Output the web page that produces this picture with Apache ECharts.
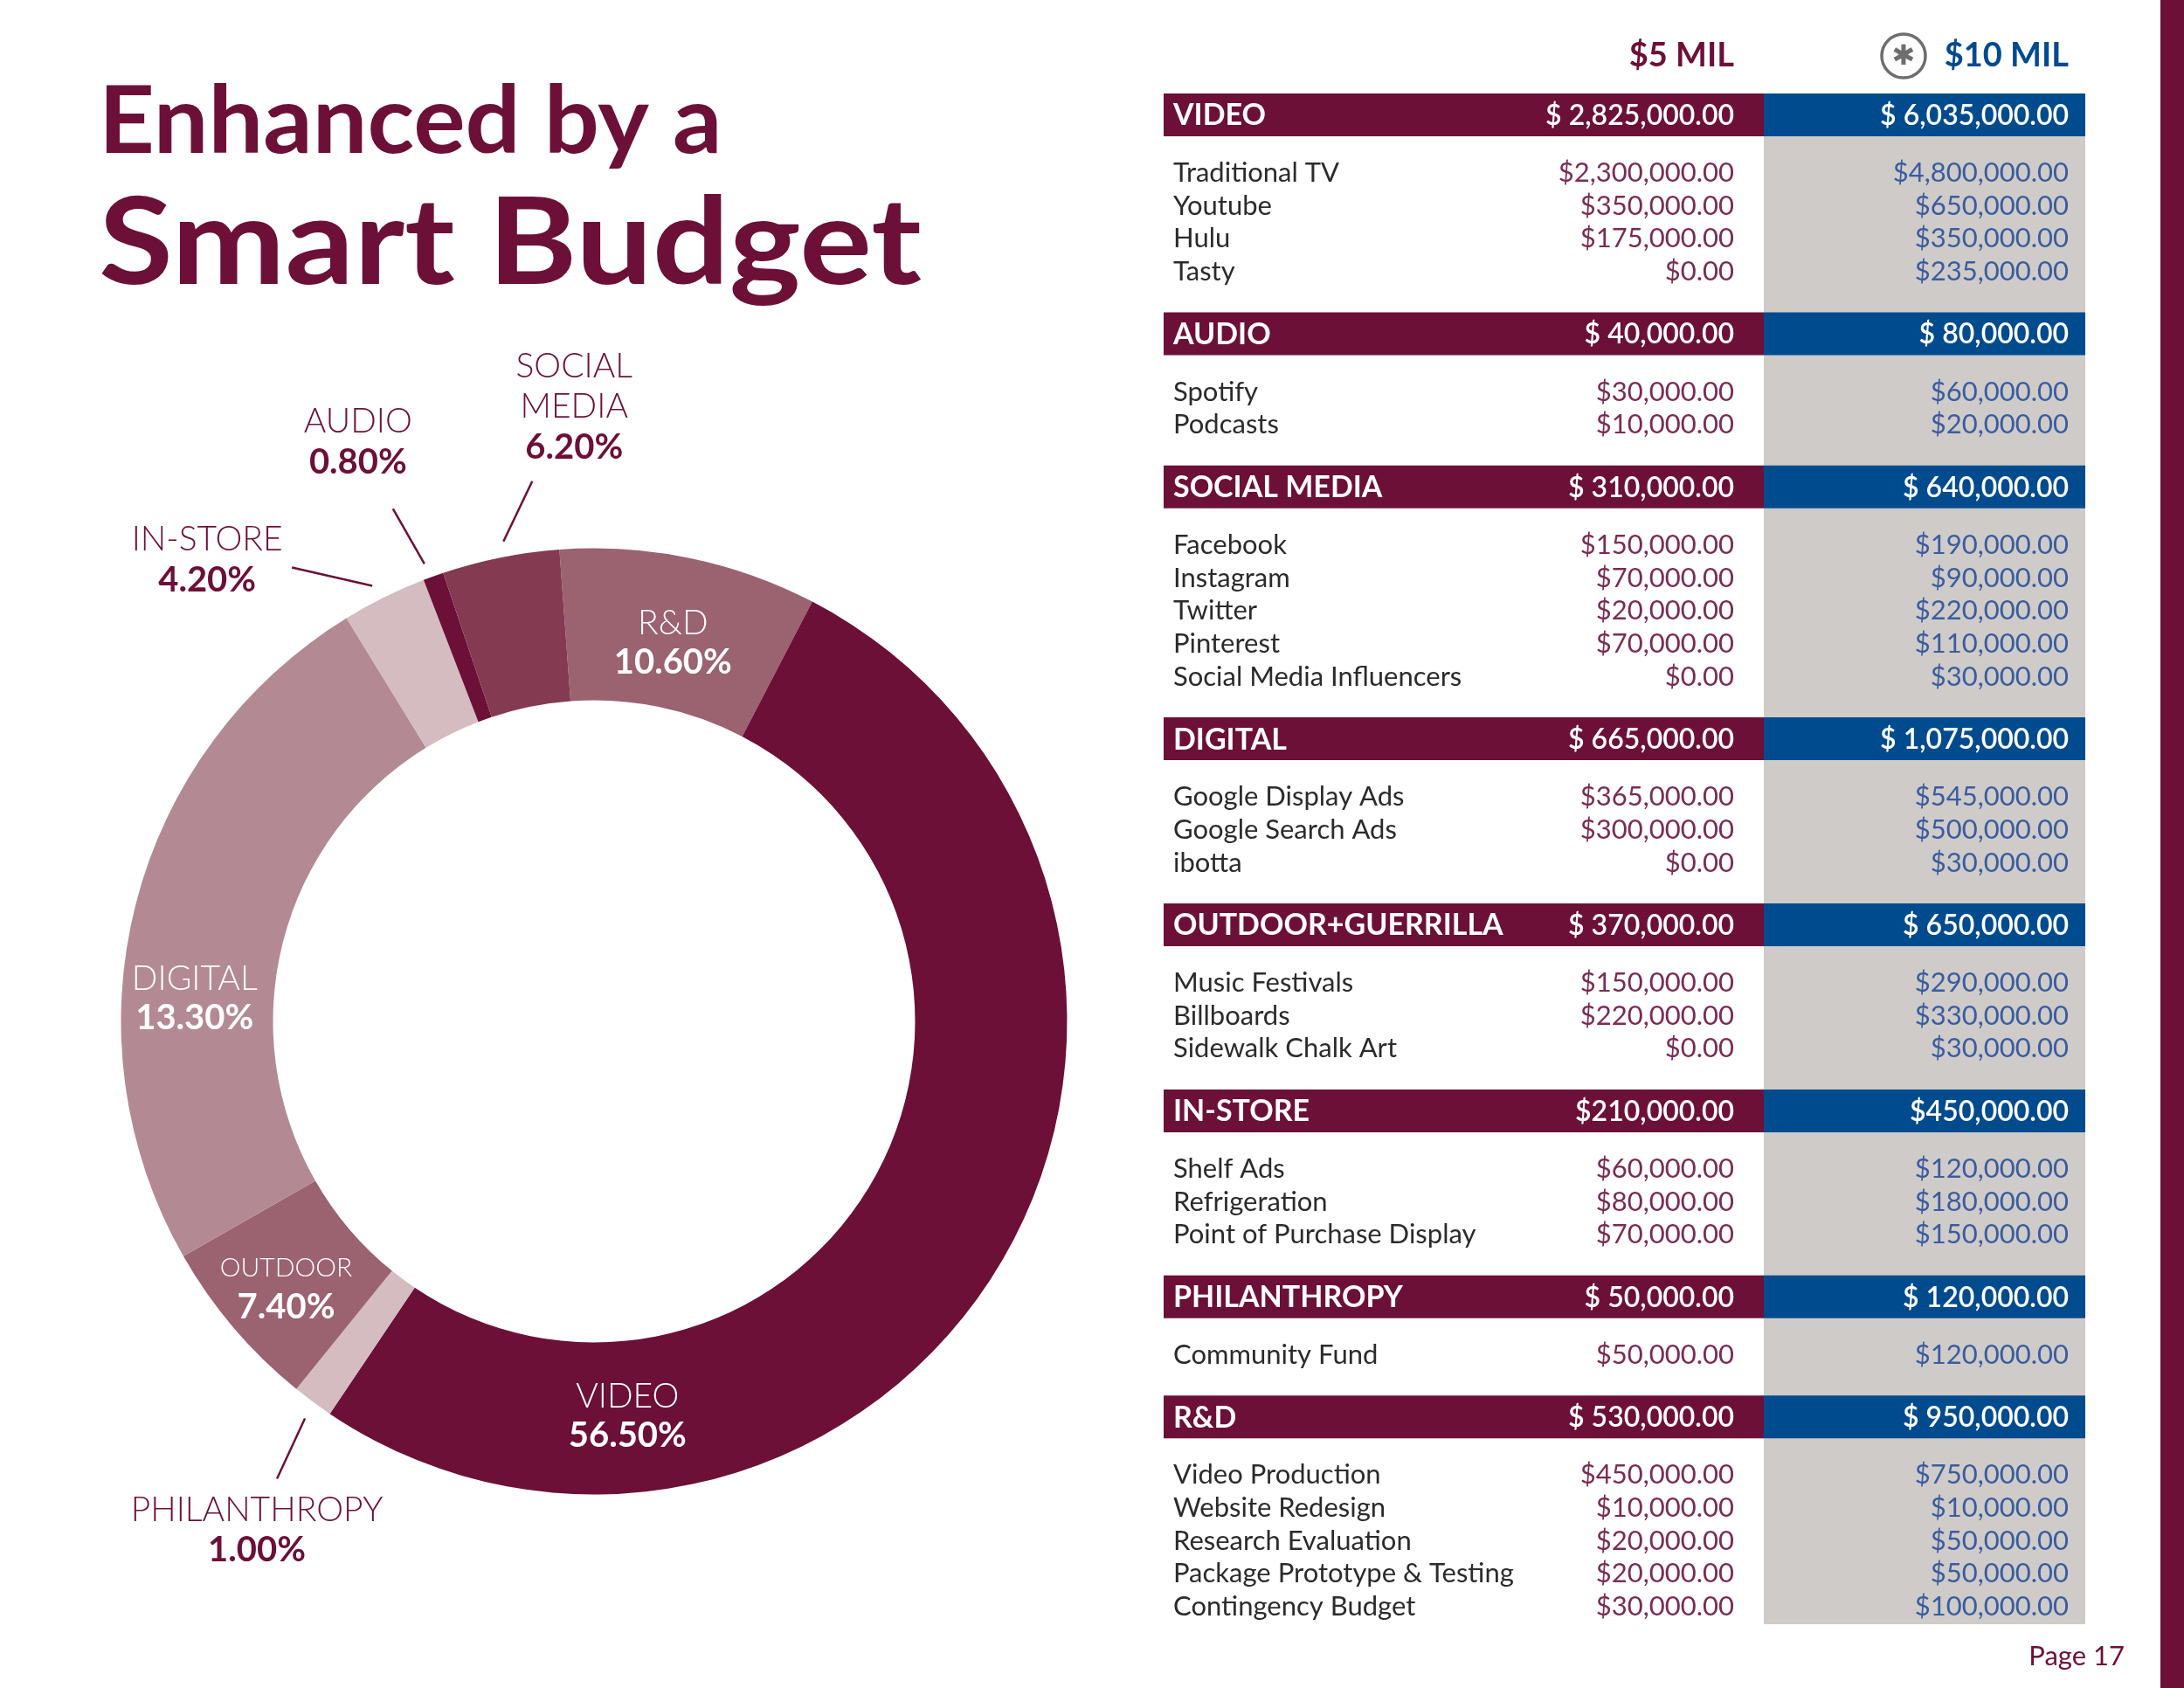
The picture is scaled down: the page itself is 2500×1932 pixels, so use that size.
<!DOCTYPE html>
<html>
<head>
<meta charset="utf-8">
<script src="https://cdn.jsdelivr.net/npm/echarts@6/dist/echarts.min.js"></script>
<style>
html,body{margin:0;padding:0;background:#ffffff;}
#chart{width:2500px;height:1932px;}
</style>
</head>
<body>
<div id="chart"></div>
<script>
// ---------------- Donut data ----------------
const sliceNames = ['R&D', 'VIDEO', 'PHILANTHROPY', 'OUTDOOR', 'DIGITAL', 'IN-STORE', 'AUDIO', 'SOCIAL MEDIA'];
const sliceLabelLines = [['R&D'], ['VIDEO'], ['PHILANTHROPY'], ['OUTDOOR'], ['DIGITAL'], ['IN-STORE'], ['AUDIO'], ['SOCIAL', 'MEDIA']];
const slicePercentLabels = ['10.60%', '56.50%', '1.00%', '7.40%', '13.30%', '4.20%', '0.80%', '6.20%'];
// arc sizes as drawn in the picture (share of the ring, %)
const sliceArcShares = [8.8, 51.8, 1.4, 5.9, 24.5, 2.9, 0.7, 4.0];

// ---------------- Table data ----------------
const titleLines = ['Enhanced by a', 'Smart Budget'];
const budgetHeaders = ['$5 MIL', '$10 MIL'];
const groupNames = ['VIDEO', 'AUDIO', 'SOCIAL MEDIA', 'DIGITAL', 'OUTDOOR+GUERRILLA', 'IN-STORE', 'PHILANTHROPY', 'R&D'];
const groupTotals5 = ['$ 2,825,000.00', '$ 40,000.00', '$ 310,000.00', '$ 665,000.00', '$ 370,000.00', '$210,000.00', '$ 50,000.00', '$ 530,000.00'];
const groupTotals10 = ['$ 6,035,000.00', '$ 80,000.00', '$ 640,000.00', '$ 1,075,000.00', '$ 650,000.00', '$450,000.00', '$ 120,000.00', '$ 950,000.00'];
const itemNames = [
  ['Traditional TV', 'Youtube', 'Hulu', 'Tasty'],
  ['Spotify', 'Podcasts'],
  ['Facebook', 'Instagram', 'Twitter', 'Pinterest', 'Social Media Influencers'],
  ['Google Display Ads', 'Google Search Ads', 'ibotta'],
  ['Music Festivals', 'Billboards', 'Sidewalk Chalk Art'],
  ['Shelf Ads', 'Refrigeration', 'Point of Purchase Display'],
  ['Community Fund'],
  ['Video Production', 'Website Redesign', 'Research Evaluation', 'Package Prototype & Testing', 'Contingency Budget']
];
const itemValues5 = [
  [2300000, 350000, 175000, 0],
  [30000, 10000],
  [150000, 70000, 20000, 70000, 0],
  [365000, 300000, 0],
  [150000, 220000, 0],
  [60000, 80000, 70000],
  [50000],
  [450000, 10000, 20000, 20000, 30000]
];
const itemValues10 = [
  [4800000, 650000, 350000, 235000],
  [60000, 20000],
  [190000, 90000, 220000, 110000, 30000],
  [545000, 500000, 30000],
  [290000, 330000, 30000],
  [120000, 180000, 150000],
  [120000],
  [750000, 10000, 50000, 50000, 100000]
];
const pageLabel = 'Page 17';

// ---------------- Styles ----------------
const MAROON = '#6c1038';
const BLUE = '#004b8d';
const GREY = '#cfcbc9';
const VAL5 = '#7a2c55';
const VAL10 = '#3a5c9e';
const ROWTXT = '#2b2b2b';
const FONT = 'Lato, "Noto Sans", sans-serif';
const sliceColors = ['#9b6270', '#6c1038', '#d4bcc1', '#9b6270', '#b38a94', '#d4bcc1', '#6c1038', '#843a50'];

// label placement (offsets in px; inside: from default ring-middle point, outside: from outer-edge anchor)
const placement = [
  { inside: true, d: [-2, 14.5] },
  { inside: true, d: [-355, 218] },
  { inside: false, s: [-9, 19], e: [-41, 88], l: [-64, 147] },
  { inside: true, d: [-4, 6], small: true },
  { inside: true, d: [-14, 87] },
  { inside: false, s: [-13.6, -13.2], e: [-105.6, -34.2], l: [-202.6, -43] },
  { inside: false, s: [-10.2, -14.3], e: [-46.2, -77.3], l: [-86.2, -154] },
  { inside: false, s: [3.3, -18.5], e: [36.3, -87.5], l: [84.3, -172.5] }
];

const L = { left: 1332, split: 2019, right: 2387, textL: 1343, col5R: 1985, col10R: 2368,
            top: 107, barH: 49, firstRow: 42, rowGap: 37.7, afterRows: 46.5, greyPad: 20 };

const fmt = v => '$' + v.toLocaleString('en-US', { minimumFractionDigits: 2, maximumFractionDigits: 2 });

function txt(x, y, s, o, extra) {
  return Object.assign({ type: 'text', z: 20, silent: true, x: x, y: y,
    style: Object.assign({ text: s, fontFamily: FONT, fontSize: 31, fontWeight: 400, fill: ROWTXT,
      align: 'left', verticalAlign: 'middle' }, o) }, extra || {});
}

const graphics = [];
// right edge band
graphics.push({ type: 'rect', z: 1, silent: true, shape: { x: 2473, y: 0, width: 27, height: 1932 }, style: { fill: MAROON } });
// title
graphics.push(txt(113, 140, titleLines[0], { fontSize: 107, fontWeight: 700, fill: MAROON }, { scaleX: 1.04 }));
graphics.push(txt(113, 280, titleLines[1], { fontSize: 138, fontWeight: 700, fill: MAROON }, { scaleX: 1.124 }));
// column headers
graphics.push(txt(L.col5R, 64, budgetHeaders[0], { fontSize: 38, fontWeight: 700, fill: MAROON, align: 'right' }));
graphics.push(txt(L.col10R, 64, budgetHeaders[1], { fontSize: 38, fontWeight: 700, fill: BLUE, align: 'right' }));
graphics.push({ type: 'circle', z: 20, silent: true, shape: { cx: 2179, cy: 64, r: 25 }, style: { fill: 'none', stroke: '#6e6e6e', lineWidth: 3.5 } });
graphics.push(txt(2179, 66, '\u2731', { fontFamily: '"DejaVu Sans"', fontSize: 32, fill: '#6e6e6e', align: 'center' }));

// table body
let y = L.top;
let lastRowY = y;
groupNames.forEach((name, gi) => {
  const barTop = y;
  const cy = barTop + L.barH / 2;
  graphics.push({ type: 'rect', z: 10, silent: true, shape: { x: L.left, y: barTop, width: L.split - L.left, height: L.barH }, style: { fill: MAROON } });
  graphics.push({ type: 'rect', z: 10, silent: true, shape: { x: L.split, y: barTop, width: L.right - L.split, height: L.barH }, style: { fill: BLUE } });
  graphics.push(txt(L.textL, cy + 1, name, { fontSize: 34, fontWeight: 700, fill: '#ffffff' }));
  graphics.push(txt(L.col5R, cy + 1, groupTotals5[gi], { fontSize: 32, fontWeight: 600, fill: '#ffffff', align: 'right' }));
  graphics.push(txt(L.col10R, cy + 1, groupTotals10[gi], { fontSize: 32, fontWeight: 600, fill: '#ffffff', align: 'right' }));
  let ry = barTop + L.barH + L.firstRow;
  itemNames[gi].forEach((item, k) => {
    graphics.push(txt(L.textL, ry, item, { fontSize: 31, fill: ROWTXT }));
    graphics.push(txt(L.col5R, ry, fmt(itemValues5[gi][k]), { fontSize: 31, fill: VAL5, align: 'right' }));
    graphics.push(txt(L.col10R, ry, fmt(itemValues10[gi][k]), { fontSize: 31, fill: VAL10, align: 'right' }));
    lastRowY = ry;
    ry += L.rowGap;
  });
  y = lastRowY + L.afterRows;
});
// grey column behind the $10 MIL values
graphics.push({ type: 'rect', z: 5, silent: true, shape: { x: L.split, y: L.top, width: L.right - L.split, height: lastRowY + L.greyPad - L.top }, style: { fill: GREY } });
// page number
graphics.push(txt(2432, 1896, pageLabel, { fontSize: 31, fill: MAROON, align: 'right' }));

const pieData = sliceNames.map((n, i) => {
  const pl = placement[i];
  return {
    name: n,
    value: sliceArcShares[i],
    itemStyle: { color: sliceColors[i] },
    label: { position: pl.inside ? 'inside' : 'outside' },
    labelLine: { show: !pl.inside }
  };
});

const chart = echarts.init(document.getElementById('chart'), null, { renderer: 'canvas', width: 2500, height: 1932 });
chart.setOption({
  backgroundColor: '#ffffff',
  animation: false,
  textStyle: { fontFamily: FONT },
  graphic: { elements: graphics },
  series: [{
    type: 'pie',
    silent: true,
    center: [680, 1169],
    radius: [367.5, 541.5],
    startAngle: 94.2,
    clockwise: true,
    avoidLabelOverlap: false,
    emphasis: { disabled: true },
    itemStyle: { borderWidth: 0 },
    label: {
      show: true,
      fontFamily: FONT,
      formatter: p => {
        const i = p.dataIndex, pl = placement[i];
        const nTag = pl.inside ? (pl.small ? 'ws' : 'wn') : 'n';
        const pTag = pl.inside ? 'wp' : 'p';
        return sliceLabelLines[i].map(t => '{' + nTag + '|' + t + '}').join('\n') + '\n{' + pTag + '|' + slicePercentLabels[i] + '}';
      },
      rich: {
        n: { fontFamily: FONT, fontWeight: 300, fontSize: 39, color: MAROON, lineHeight: 46 },
        p: { fontFamily: FONT, fontWeight: 700, fontSize: 40, color: MAROON, lineHeight: 46 },
        wn: { fontFamily: FONT, fontWeight: 300, fontSize: 39, color: '#ffffff', lineHeight: 45 },
        ws: { fontFamily: FONT, fontWeight: 300, fontSize: 30, color: '#ffffff', lineHeight: 44 },
        wp: { fontFamily: FONT, fontWeight: 700, fontSize: 40, color: '#ffffff', lineHeight: 45 }
      }
    },
    labelLine: { show: true, length: 20, length2: 0, lineStyle: { color: MAROON, width: 2.5 } },
    labelLayout: function (p) {
      const pl = placement[p.dataIndex];
      if (pl.inside) {
        const r = p.labelRect;
        return { x: r.x + r.width / 2 + pl.d[0], y: r.y + r.height / 2 + pl.d[1], align: 'center', verticalAlign: 'middle' };
      }
      if (!p.labelLinePoints || !p.labelLinePoints.length) return {};
      const a = p.labelLinePoints[0];
      return {
        x: a[0] + pl.l[0], y: a[1] + pl.l[1], align: 'center', verticalAlign: 'middle',
        labelLinePoints: [[a[0] + pl.s[0], a[1] + pl.s[1]], [a[0] + pl.e[0], a[1] + pl.e[1]]]
      };
    },
    data: pieData
  }]
});
</script>
</body>
</html>
